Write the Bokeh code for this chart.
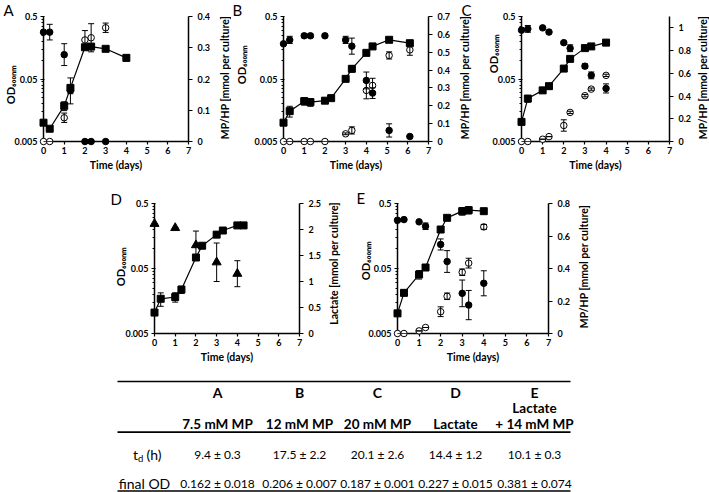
import math
from bokeh.plotting import figure
from bokeh.models import (Range1d, LinearAxis, LinearScale, FixedTicker, CustomJSTickFormatter,
                          Whisker, TeeHead, ColumnDataSource, Spacer)
from bokeh.layouts import column, row
from bokeh.core.properties import value
from bokeh.embed import file_html
from bokeh.resources import INLINE

# ---------------- data ----------------
DAY_TICKS = [0, 1, 2, 3, 4, 5, 6, 7]
OD_TICKS = [0.005, 0.05, 0.5]

# Panel A (7.5 mM MP)
A_t_od = [0, 0.3, 1, 1.3, 2, 2.3, 3, 4]
A_od = [0.0100, 0.0080, 0.0186, 0.036, 0.161, 0.165, 0.152, 0.109]
A_od_err = [0, 0, 0.003, 0.016, 0.01, 0.01, 0.01, 0.012]
A_t_mp = [0, 0.3, 1, 1.3, 2, 2.3, 3]
A_mp = [0.35, 0.35, 0.278, 0.163, 0, 0, 0]
A_mp_err = [0, 0.025, 0.035, 0.01, 0, 0, 0]
A_t_hp = [0, 0.3, 1, 2, 2.3, 3]
A_hp = [0, 0, 0.076, 0.325, 0.332, 0.364]
A_hp_err = [0, 0, 0.015, 0.03, 0.045, 0.015]

# Panel B (12 mM MP)
B_t_od = [0, 0.3, 1, 1.3, 2, 2.3, 3, 3.3, 4, 4.3, 5.1, 6.1]
B_od = [0.0100, 0.0153, 0.0221, 0.0213, 0.0225, 0.0247, 0.0503, 0.0728, 0.131, 0.166, 0.212, 0.187]
B_od_err = [0, 0.003, 0.003, 0.003, 0.002, 0.002, 0.004, 0.008, 0.005, 0.005, 0.008, 0.01]
B_t_mp = [0, 0.3, 1, 1.3, 2, 3, 3.3, 4, 4.3, 5.1, 6.1]
B_mp = [0.547, 0.569, 0.592, 0.592, 0.592, 0.569, 0.534, 0.342, 0.271, 0.062, 0.028]
B_mp_err = [0, 0.02, 0.01, 0.01, 0.01, 0.02, 0.045, 0.047, 0.03, 0.037, 0]
B_t_hp = [0, 0.3, 1, 1.3, 2, 3, 3.3, 4, 4.3, 5.1, 6.1]
B_hp = [0, 0, 0, 0, 0, 0.043, 0.062, 0.286, 0.314, 0.482, 0.513]
B_hp_err = [0, 0, 0, 0, 0, 0.005, 0.02, 0.047, 0.04, 0.02, 0.03]

# Panel C (20 mM MP)
C_t = [0, 0.3, 1, 1.3, 2, 2.3, 3, 3.3, 4]
C_od = [0.0103, 0.0243, 0.0329, 0.0384, 0.0734, 0.105, 0.156, 0.166, 0.191]
C_od_err = [0, 0.003, 0.002, 0.004, 0.004, 0.005, 0.005, 0.005, 0.005]
C_mp = [0.98, 0.991, 1.0, 0.963, 0.870, 0.821, 0.663, 0.582, 0.467]
C_mp_err = [0, 0.03, 0, 0, 0.01, 0.03, 0.02, 0.03, 0.04]
C_hp = [0, 0, 0.02, 0.043, 0.141, 0.256, 0.403, 0.461, 0.582]
C_hp_err = [0, 0, 0, 0, 0.05, 0.01, 0.01, 0.01, 0.01]

# Panel D (Lactate)
D_t = [0, 0.3, 1, 1.3, 2, 2.3, 3, 3.3, 4, 4.3]
D_od = [0.0105, 0.0171, 0.0182, 0.0237, 0.0738, 0.112, 0.166, 0.192, 0.23, 0.23]
D_od_err = [0, 0.004, 0.003, 0.003, 0.004, 0.003, 0.004, 0.004, 0.004, 0.004]
D_t_lac = [0, 1, 2, 3, 4]
D_lac = [2.11, 2.03, 1.70, 1.37, 1.15]
D_lac_err = [0, 0, 0.27, 0.37, 0.25]

# Panel E (Lactate + 14 mM MP)
E_t = [0, 0.3, 1, 1.3, 2, 2.3, 3, 3.3, 4]
E_od = [0.0102, 0.0211, 0.0404, 0.0518, 0.199, 0.301, 0.381, 0.395, 0.381]
E_od_err = [0, 0.002, 0.006, 0.004, 0.02, 0.02, 0.05, 0.05, 0.01]
E_mp = [0.697, 0.701, 0.687, 0.66, 0.548, 0.443, 0.247, 0.175, 0.309]
E_mp_err = [0, 0, 0, 0.02, 0.034, 0.067, 0.082, 0.09, 0.077]
E_hp = [0, 0, 0.016, 0.037, 0.134, 0.229, 0.377, 0.433, 0.656]
E_hp_err = [0, 0, 0, 0, 0.03, 0.02, 0.02, 0.03, 0.015]

# Table
table_cols = ["A", "B", "C", "D", "E"]
cond_line1 = ["", "", "", "", "Lactate"]
cond_line2 = ["7.5 mM MP", "12 mM MP", "20 mM MP", "Lactate", "+ 14 mM MP"]
td_vals = ["9.4 ± 0.3", "17.5 ± 2.2", "20.1 ± 2.6", "14.4 ± 1.2", "10.1 ± 0.3"]
final_od = ["0.162 ± 0.018", "0.206 ± 0.007", "0.187 ± 0.001", "0.227 ± 0.015", "0.381 ± 0.074"]

# ---------------- styling helpers ----------------
FONT = "Lato"
OD_MINOR = [m * 0.005 for m in range(2, 10)] + [m * 0.05 for m in range(2, 10)]
OD_LABEL = "OD₆₀₀ₙₘ"
MP_LABEL = "MP/HP [mmol per culture]"
X_MIN, X_MAX = 0, 7
Y_MIN, Y_MAX = 0.005, 0.5


def style_axis(ax):
    ax.axis_line_width = 1.5
    ax.axis_line_color = "black"
    ax.major_tick_line_color = "black"
    ax.major_tick_line_width = 1.2
    ax.minor_tick_line_color = "black"
    ax.major_label_text_font = FONT
    ax.major_label_text_font_style = "bold"
    ax.major_label_text_font_size = "9px"
    ax.major_label_text_color = "black"
    ax.axis_label_text_font = FONT
    ax.axis_label_text_font_style = "bold"
    ax.axis_label_text_font_size = "10.5px"
    ax.axis_label_text_color = "black"


def add_text(p, text, ax, ay, dx, dy, size="10.5px", style="bold", angle=0.0, align="center"):
    # text anchored at a frame corner (ax, ay) and shifted by dx, dy pixels (dy > 0 is down)
    p.text(x=[ax], y=[ay], text=[text], x_offset=dx, y_offset=dy, angle=angle,
           text_font=value(FONT), text_font_size=size, text_font_style=style,
           text_color="black", text_align=align, text_baseline="middle", level="annotation")


def make_panel(W, H, bl, br, bt, bb, r_end, r_ticks, r_label, od_pos, r_pos):
    p = figure(width=W, height=H, y_axis_type="log",
               x_range=Range1d(X_MIN, X_MAX), y_range=Range1d(Y_MIN, Y_MAX),
               output_backend="svg", toolbar_location=None,
               min_border_left=bl, min_border_right=br,
               min_border_top=bt, min_border_bottom=bb)
    p.outline_line_color = None
    p.xgrid.visible = False
    p.ygrid.visible = False
    p.extra_y_ranges = {"r": Range1d(0, r_end)}
    p.extra_y_scales = {"r": LinearScale()}

    xa = p.xaxis[0]
    style_axis(xa)
    xa.ticker = FixedTicker(ticks=DAY_TICKS)
    xa.axis_label = "Time (days)"
    xa.major_tick_in = 0
    xa.major_tick_out = 3
    xa.minor_tick_in = 0
    xa.minor_tick_out = 0
    xa.major_label_standoff = 2
    xa.axis_label_standoff = 2

    ya = p.yaxis[0]
    style_axis(ya)
    ya.ticker = FixedTicker(ticks=OD_TICKS, minor_ticks=OD_MINOR)
    ya.formatter = CustomJSTickFormatter(code="return tick.toString()")
    ya.major_tick_in = 1
    ya.major_tick_out = 3
    ya.minor_tick_in = 0
    ya.minor_tick_out = 2
    ya.major_label_standoff = 3

    ra = LinearAxis(y_range_name="r", ticker=FixedTicker(ticks=r_ticks),
                    formatter=CustomJSTickFormatter(code="return String(Math.round(tick*100)/100)"))
    style_axis(ra)
    ra.major_tick_in = 0
    ra.major_tick_out = 4
    ra.minor_tick_in = 0
    ra.minor_tick_out = 0
    ra.major_label_standoff = 5
    p.add_layout(ra, "right")

    add_text(p, OD_LABEL, X_MIN, Y_MIN, od_pos[0], -od_pos[1], size="11px", angle=math.pi / 2)
    add_text(p, r_label, X_MAX, Y_MIN, r_pos[0], -r_pos[1], angle=math.pi / 2)
    return p


def add_series(p, xs, ys, errs, marker, fill, size, rname=None, line=False):
    kw = {} if rname is None else {"y_range_name": rname}
    if line:
        p.line(xs, ys, line_color="black", line_width=1.2, level="annotation", **kw)
    p.scatter(xs, ys, marker=marker, size=size, fill_color=fill, line_color="black",
              line_width=1, level="annotation", **kw)
    src = ColumnDataSource(dict(x=xs,
                                lo=[y - e for y, e in zip(ys, errs)],
                                hi=[y + e for y, e in zip(ys, errs)]))
    w = Whisker(base="x", lower="lo", upper="hi", source=src, level="overlay",
                line_color="black", line_width=1,
                upper_head=TeeHead(size=6, line_width=1, line_color="black"),
                lower_head=TeeHead(size=6, line_width=1, line_color="black"), **kw)
    p.add_layout(w)


def add_letter(p, text, ax, dx, dy):
    add_text(p, text, ax, Y_MAX, dx, dy, size="15px", style="normal", align="left")


SQ, CI = 7, 6.5

# ---------------- row 1 ----------------
R1H, R1T, R1B = 178, 16, 37

pA = make_panel(231, R1H, 43, 43, R1T, R1B, 0.4, [0, 0.1, 0.2, 0.3, 0.4], MP_LABEL,
                (-33, 57), (36, 64))
add_series(pA, A_t_hp, A_hp, A_hp_err, "circle", "white", CI, "r")
add_series(pA, A_t_mp, A_mp, A_mp_err, "circle", "black", CI, "r")
add_series(pA, A_t_od, A_od, A_od_err, "square", "black", SQ, line=True)
add_letter(pA, "A", X_MIN, -40, -7)

pB = make_panel(243, R1H, 52, 46, R1T, R1B, 0.7, [0, 0.1, 0.2, 0.3, 0.4, 0.5, 0.6, 0.7], MP_LABEL,
                (-42, 77), (36, 64))
add_series(pB, B_t_hp, B_hp, B_hp_err, "circle", "white", CI, "r")
add_series(pB, B_t_mp, B_mp, B_mp_err, "circle", "black", CI, "r")
add_series(pB, B_t_od, B_od, B_od_err, "square", "black", SQ, line=True)
add_letter(pB, "B", X_MIN, -51, -7)
add_letter(pB, "C", X_MAX, 33, -7)

pC = make_panel(235, R1H, 47, 40, R1T, R1B, 1.1, [0, 0.2, 0.4, 0.6, 0.8, 1.0], MP_LABEL,
                (-28, 88), (33, 64))
add_series(pC, C_t, C_hp, C_hp_err, "circle", "white", CI, "r")
add_series(pC, C_t, C_mp, C_mp_err, "circle", "black", CI, "r")
add_series(pC, C_t, C_od, C_od_err, "square", "black", SQ, line=True)

# ---------------- row 2 ----------------
R2H, R2T, R2B = 191, 25, 36

pD = make_panel(246, R2H, 50, 51, R2T, R2B, 2.5, [0, 0.5, 1, 1.5, 2, 2.5],
                "Lactate [mmol per culture]", (-34, 67), (34, 70))
add_series(pD, D_t_lac, D_lac, D_lac_err, "triangle", "black", 9, "r")
add_series(pD, D_t, D_od, D_od_err, "square", "black", SQ, line=True)
add_letter(pD, "D", X_MIN, -44, -5)

pE = make_panel(248, R2H, 47, 50, R2T, R2B, 0.8, [0, 0.2, 0.4, 0.6, 0.8], MP_LABEL,
                (-32, 73), (35, 67))
add_series(pE, E_t, E_hp, E_hp_err, "circle", "white", CI, "r")
add_series(pE, E_t, E_mp, E_mp_err, "circle", "black", CI, "r")
add_series(pE, E_t, E_od, E_od_err, "square", "black", SQ, line=True)
add_letter(pE, "E", X_MIN, -41, -6)

# ---------------- table ----------------
TW, TH = 709, 492 - R1H - R2H
T = figure(width=TW, height=TH, x_range=Range1d(0, TW), y_range=Range1d(TH, 0),
           output_backend="svg", toolbar_location=None, min_border=0,
           x_axis_location=None, y_axis_location=None)
T.outline_line_color = None
T.xgrid.visible = False
T.ygrid.visible = False

col_x = [217, 299, 377, 455, 534]
rowlab_x = 144
line_y = [12, 62.7, 121.5]
T.segment(x0=[117] * 3, x1=[570] * 3, y0=line_y, y1=line_y, line_color="black", line_width=1.7)


def ttext(xs, ys, texts, size, style="normal", align="center"):
    T.text(x=xs, y=ys, text=texts, text_font=value(FONT), text_font_size=size,
           text_font_style=style, text_align=align, text_baseline="middle", text_color="black")


ttext(col_x, [23] * 5, table_cols, "14px", "bold")
l1 = [(x, t) for x, t in zip(col_x, cond_line1) if t]
ttext([a for a, _ in l1], [38] * len(l1), [b for _, b in l1], "13.5px", "bold")
ttext(col_x, [54.5] * 5, cond_line2, "13.5px", "bold")
ttext(col_x, [85] * 5, td_vals, "12px")
ttext(col_x, [113.5] * 5, final_od, "12px")
ttext([137.5], [85], ["t"], "14px", align="right")
ttext([137.5], [88.5], ["d"], "9.5px", align="left")
ttext([146], [85], ["(h)"], "14px", align="left")
ttext([rowlab_x], [113.5], ["final OD"], "14px")

layout = column(row(pA, pB, pC), row(Spacer(width=104, height=R2H), pD, pE), T)
open("out.html", "w").write(file_html(layout, INLINE))
